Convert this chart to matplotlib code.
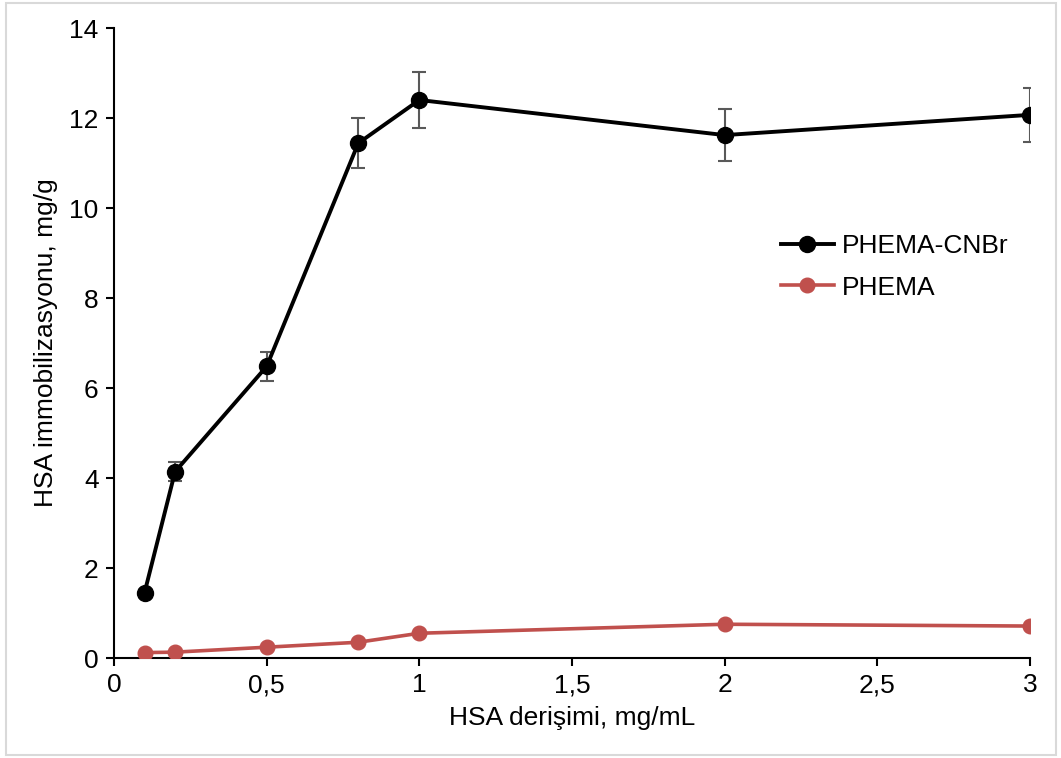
import matplotlib.pyplot as plt
from matplotlib.lines import Line2D
from matplotlib.patches import Rectangle
from matplotlib.ticker import FuncFormatter

plt.rcParams['font.family'] = ['Liberation Sans', 'DejaVu Sans']

# HSA concentration, mg/mL
hsa = [0.1, 0.2, 0.5, 0.8, 1, 2, 3]
# immobilized HSA, mg/g
cnbr = [1.45, 4.14, 6.48, 11.44, 12.4, 11.62, 12.07]
cnbr_err = [0, 0.21, 0.32, 0.56, 0.62, 0.58, 0.6]
phema = [0.12, 0.13, 0.24, 0.35, 0.55, 0.75, 0.71]

black = 'black'
red = '#c0504d'

fig = plt.figure(figsize=(10.61, 7.58), dpi=100)
ax = fig.add_axes([114 / 1061, 100 / 758, 916 / 1061, 630 / 758])

fig.patches.append(Rectangle((6 / 1061, 3 / 758), 1050 / 1061, 752 / 758,
                             transform=fig.transFigure, fill=False,
                             edgecolor='#d9d9d9', linewidth=1.5))

ax.errorbar(hsa, cnbr, yerr=cnbr_err, color=black, lw=2.8, marker='o',
            markersize=11.5, ecolor='#595959', elinewidth=1.5, capsize=5,
            capthick=1.5, zorder=3)
ax.plot(hsa, phema, color=red, lw=2.6, marker='o', markersize=10.5, zorder=3)

ax.set_xlim(0, 3)
ax.set_ylim(0, 14)
ax.set_xticks([0, 0.5, 1, 1.5, 2, 2.5, 3])
ax.set_yticks(range(0, 15, 2))
ax.xaxis.set_major_formatter(FuncFormatter(lambda v, p: ('%g' % v).replace('.', ',')))
ax.tick_params(direction='out', length=6, width=1.5, labelsize=19, pad=5)
for s in ['top', 'right']:
    ax.spines[s].set_visible(False)
for s in ['left', 'bottom']:
    ax.spines[s].set_linewidth(1.5)
ax.set_xlabel('HSA derişimi, mg/mL', fontsize=19, labelpad=6)
ax.set_ylabel('HSA immobilizasyonu, mg/g', fontsize=19, labelpad=8)

handles = [Line2D([], [], color=black, lw=2.8, marker='o', markersize=11.5),
           Line2D([], [], color=red, lw=2.6, marker='o', markersize=10.5)]
ax.legend(handles, ['PHEMA-CNBr', 'PHEMA'], loc='upper left',
          bbox_to_anchor=(0.702, 0.71), frameon=False, fontsize=19,
          handlelength=2.0, handletextpad=0.3, labelspacing=0.65)

fig.savefig('out.png', dpi=100)
